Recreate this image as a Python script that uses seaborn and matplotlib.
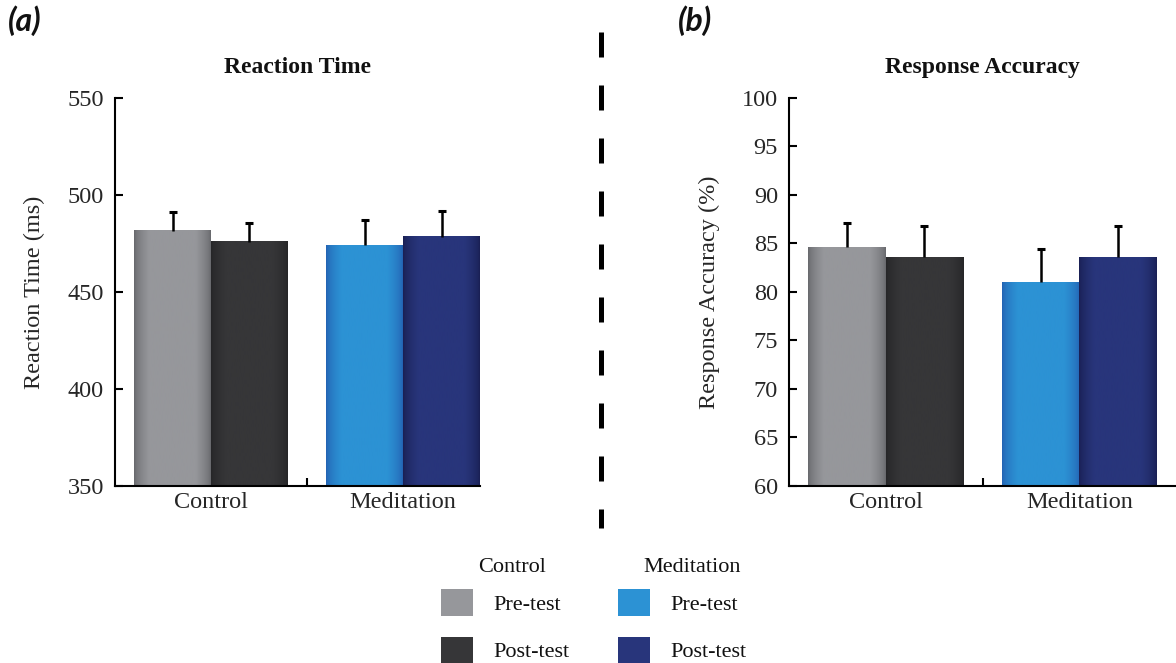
import numpy as np
import pandas as pd
import matplotlib
matplotlib.use("Agg")
import matplotlib.pyplot as plt
from matplotlib.patches import Patch
from matplotlib.lines import Line2D
from matplotlib.colors import to_rgb
import seaborn as sns

# ---- data -------------------------------------------------------------
groups = ["Control", "Meditation"]
phases = ["Pre-test", "Post-test"]

rt_mean = [481.5, 476.0, 474.0, 478.5]        # Control pre, Control post, Meditation pre, Meditation post
rt_se = [9.5, 9.5, 13.0, 13.0]
acc_mean = [84.6, 83.6, 81.0, 83.6]
acc_se = [2.5, 3.2, 3.4, 3.2]

rt_ticks = [350, 400, 450, 500, 550]
acc_ticks = [60, 65, 70, 75, 80, 85, 90, 95, 100]

# bar shading: (edge colour, centre colour) per group/phase
shades = {
    ("Control", "Pre-test"): ("#65666a", "#96979b"),
    ("Control", "Post-test"): ("#252527", "#363638"),
    ("Meditation", "Pre-test"): ("#2360b2", "#2c92d4"),
    ("Meditation", "Post-test"): ("#191f52", "#28357b"),
}
solid = {k: v[1] for k, v in shades.items()}

# ---- style ------------------------------------------------------------
sns.set_theme(style="ticks")
plt.rcParams["font.family"] = ["Liberation Serif", "DejaVu Serif"]
plt.rcParams["axes.edgecolor"] = "black"
plt.rcParams["axes.linewidth"] = 1.5
plt.rcParams["text.color"] = "#111111"

fig = plt.figure(figsize=(11.76, 6.63), dpi=100)
W, H = 1176, 663


def px_axes(x0, y0, x1, y1):
    return fig.add_axes([x0 / W, 1 - y1 / H, (x1 - x0) / W, (y1 - y0) / H])


def shaded_bar(ax, bar, edge, centre, z):
    x0 = bar.get_x()
    x1 = x0 + bar.get_width()
    y0 = bar.get_y()
    y1 = y0 + bar.get_height()
    t = np.linspace(0, 1, 200)
    w = np.clip(np.minimum(t, 1 - t) / 0.2, 0, 1) ** 0.6
    e = np.array(to_rgb(edge))
    c = np.array(to_rgb(centre))
    img = e[None, :] + (c - e)[None, :] * w[:, None]
    ax.imshow(img[None, :, :], extent=[x0, x1, y0, y1], aspect="auto",
              interpolation="bilinear", zorder=z, origin="lower")


def panel(ax, means, ses, title, ylabel, yticks, xlim):
    df = pd.DataFrame({
        "group": [g for g in groups for _ in phases],
        "phase": [p for _ in groups for p in phases],
        "value": means,
    })
    sns.barplot(data=df, x="group", y="value", hue="phase", order=groups,
                hue_order=phases, errorbar=None, width=0.8, ax=ax,
                legend=False, linewidth=0, palette=["#999999", "#333333"])
    xs, tops, errs = [], [], []
    for pi, cont in enumerate(ax.containers):
        for gi, bar in enumerate(cont):
            key = (groups[gi], phases[pi])
            bar.set_facecolor(solid[key])
            shaded_bar(ax, bar, *shades[key], z=bar.get_zorder() + 0.1)
            xs.append(bar.get_x() + bar.get_width() / 2)
            tops.append(bar.get_height())
            errs.append(ses[gi * 2 + pi])
    # one-sided (upper) error bars
    _, caps, _ = ax.errorbar(xs, tops, yerr=[np.zeros(len(errs)), errs],
                             fmt="none", ecolor="black", elinewidth=1.8,
                             capsize=2.8, capthick=2.2, zorder=5)
    caps[0].set_visible(False)

    ax.set_xlim(*xlim)
    ax.set_ylim(yticks[0], yticks[-1])
    ax.set_yticks(yticks)
    ax.set_xticks([0, 1])
    ax.set_xticklabels(groups)
    ax.set_xticks([0.5], minor=True)
    ax.tick_params(axis="x", which="major", length=0, pad=4, labelsize=17.5)
    ax.tick_params(axis="x", which="minor", direction="in", length=6,
                   width=1.5, color="black")
    ax.tick_params(axis="y", direction="in", length=6, width=1.5,
                   color="black", pad=8, labelsize=17.5)
    ax.set_xlabel("")
    ax.set_ylabel(ylabel, fontsize=17.5, labelpad=16)
    ax.set_title(title, fontsize=17, fontweight="bold", pad=18)
    sns.despine(ax=ax)
    ax.set_facecolor("none")


ax1 = px_axes(115, 98, 480, 486)
panel(ax1, rt_mean, rt_se, "Reaction Time", "Reaction Time (ms)",
      rt_ticks, (-0.5, 1.4))

ax2 = px_axes(789, 98, 1176, 486)
panel(ax2, acc_mean, acc_se, "Response Accuracy", "Response Accuracy (%)",
      acc_ticks, (-0.5, 1.5))

# panel letters
for txt, xp in [("(a)", 8), ("(b)", 678)]:
    fig.text(xp / W, 1 - 5 / H, txt, ha="left", va="top", fontsize=23,
             fontweight="bold", fontstyle="italic", family=["Lato", "DejaVu Sans"])

# dashed separator between panels
fig.add_artist(Line2D([601 / W, 601 / W], [1 - 32 / H, 1 - 528 / H],
                      transform=fig.transFigure, color="black", lw=3.6,
                      linestyle=(0, (5, 5.6)), solid_capstyle="butt",
                      dash_capstyle="butt"))

# legend
handles = [Patch(facecolor=solid[(g, p)], edgecolor="none")
           for g in groups for p in phases]
labels = [p for g in groups for p in phases]
fig.legend(handles, labels, ncol=2, loc="upper left",
           bbox_to_anchor=(441 / W, 1 - 589 / H), frameon=False,
           fontsize=16, handlelength=1.45, handleheight=1.5,
           handletextpad=0.9, columnspacing=2.2, labelspacing=0.92,
           borderpad=0, borderaxespad=0)
fig.text(512 / W, 1 - 567 / H, "Control", ha="center", va="center", fontsize=16)
fig.text(692 / W, 1 - 567 / H, "Meditation", ha="center", va="center", fontsize=16)

fig.savefig("out.png", dpi=100)
